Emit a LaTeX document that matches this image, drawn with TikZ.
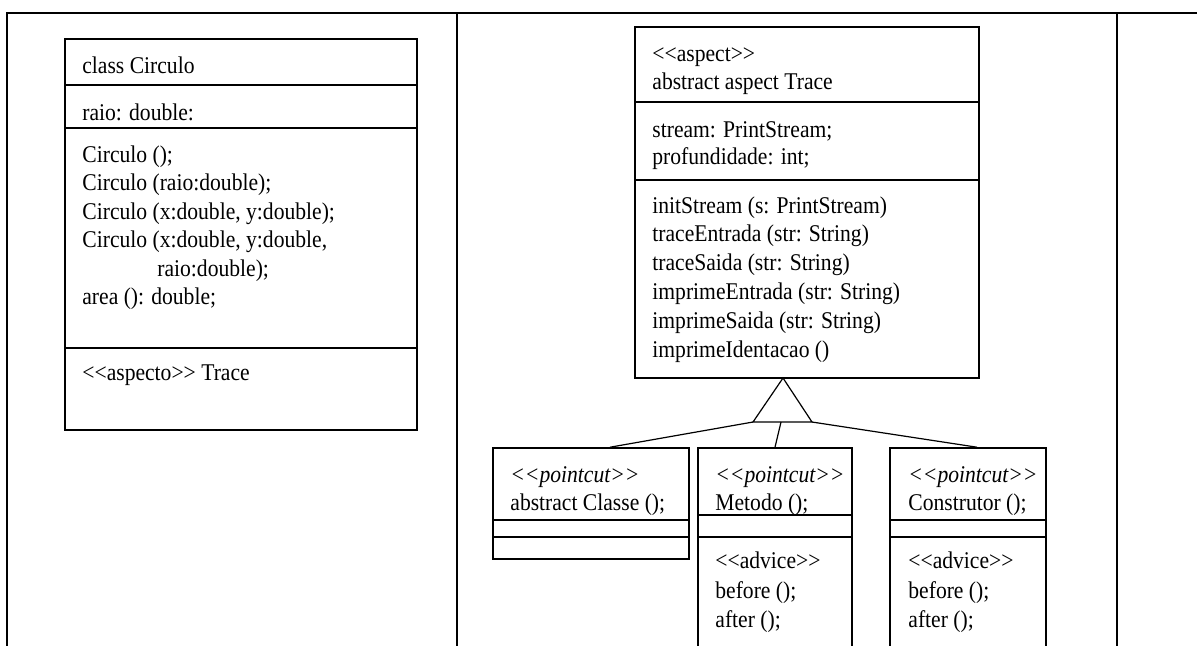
\documentclass[tikz,border=0pt]{standalone}
\usepackage{fontspec}
\setmainfont{Liberation Serif}[FakeStretch=0.9]
\usetikzlibrary{fit}

% <<...>> sem virar guillemet
\newcommand{\estereo}[1]{<\kern0pt<#1>\kern0pt>}

\tikzset{
  compart/.style={draw, line width=0.8pt, inner sep=0pt},
  umltext/.style={anchor=base west, inner sep=0pt, font=\fontsize{12}{14}\selectfont},
  frame/.style={line width=0.9pt},
  link/.style={line width=0.6pt}
}

\begin{document}
\begin{tikzpicture}[x=0.5pt, y=-0.5pt]
  \useasboundingbox (0,0) rectangle (1197,645);
  \clip (0,0) rectangle (1197,645);

  % moldura da tabela
  \draw[frame] (7,660) -- (7,13) -- (1200,13);
  \draw[frame] (457,13) -- (457,660);
  \draw[frame] (1117,13) -- (1117,660);

  % classe Circulo
  \node[compart, fit={(65,39) (417,85)}] (circName) {};
  \node[compart, fit={(65,85) (417,128)}] (circAttr) {};
  \node[compart, fit={(65,128) (417,348)}] (circOps) {};
  \node[compart, fit={(65,348) (417,430)}] (circAsp) {};
  \node[umltext] (circNameTxt) at (82,73) {class Circulo};
  \node[umltext] (circAttrTxt) at (82,120) {raio: double:};
  \foreach \txt [count=\i from 0] in {{Circulo ();}, {Circulo (raio:double);},
      {Circulo (x:double, y:double);}, {Circulo (x:double, y:double,},
      {\hspace*{37.5pt}raio:double);}, {area (): double;}}
    \node[umltext] (circOp\i) at (82,162+28.5*\i) {\txt};
  \node[umltext] (circAspTxt) at (82,380) {\estereo{aspecto} Trace};

  % aspecto Trace
  \node[compart, fit={(635,27) (979,102)}] (traceName) {};
  \node[compart, fit={(635,102) (979,180)}] (traceAttr) {};
  \node[compart, fit={(635,180) (979,378)}] (traceOps) {};
  \node[umltext] (traceStereo) at (652,61) {\estereo{aspect}};
  \node[umltext] (traceNameTxt) at (652,89) {abstract aspect Trace};
  \node[umltext] (traceAttr1) at (652,137) {stream: PrintStream;};
  \node[umltext] (traceAttr2) at (652,164) {profundidade: int;};
  \foreach \txt [count=\i from 0] in {{initStream (s: PrintStream)},
      {traceEntrada (str: String)}, {traceSaida (str: String)},
      {imprimeEntrada (str: String)}, {imprimeSaida (str: String)},
      {imprimeIdentacao ()}}
    \node[umltext] (traceOp\i) at (652,213+28.8*\i) {\txt};

  % pointcut Classe
  \node[compart, fit={(493,448) (689,520)}] (classeName) {};
  \node[compart, fit={(493,520) (689,537)}] (classeAttr) {};
  \node[compart, fit={(493,537) (689,559)}] (classeOps) {};
  \node[umltext] (classeStereo) at (510,482) {\textit{\estereo{pointcut}}};
  \node[umltext] (classeTxt) at (510,510) {abstract Classe ();};

  % pointcut Metodo
  \node[compart, fit={(698,448) (852,515)}] (metodoName) {};
  \node[compart, fit={(698,515) (852,537)}] (metodoAttr) {};
  \node[compart, fit={(698,537) (852,660)}] (metodoOps) {};
  \node[umltext] (metodoStereo) at (715,482) {\textit{\estereo{pointcut}}};
  \node[umltext] (metodoTxt) at (715,510) {Metodo ();};
  \node[umltext] (metodoAdv) at (715,568) {\estereo{advice}};
  \node[umltext] (metodoBefore) at (715,598) {before ();};
  \node[umltext] (metodoAfter) at (715,627) {after ();};

  % pointcut Construtor
  \node[compart, fit={(890,448) (1046,520)}] (construtorName) {};
  \node[compart, fit={(890,520) (1046,537)}] (construtorAttr) {};
  \node[compart, fit={(890,537) (1046,660)}] (construtorOps) {};
  \node[umltext] (construtorStereo) at (908,482) {\textit{\estereo{pointcut}}};
  \node[umltext] (construtorTxt) at (908,510) {Construtor ();};
  \node[umltext] (construtorAdv) at (908,568) {\estereo{advice}};
  \node[umltext] (construtorBefore) at (908,598) {before ();};
  \node[umltext] (construtorAfter) at (908,627) {after ();};

  % generalizacao
  \coordinate (genTip) at (783,378);
  \coordinate (genL) at (753,422);
  \coordinate (genM) at (781,422);
  \coordinate (genR) at (812,422);
  \draw[link] (genTip) -- (genL) -- (genR) -- cycle;
  \draw[link] (genL) -- ([xshift=9.5pt]classeName.north);
  \draw[link] (genM) -- (metodoName.north);
  \draw[link] (genR) -- ([xshift=4.5pt]construtorName.north);
\end{tikzpicture}
\end{document}
